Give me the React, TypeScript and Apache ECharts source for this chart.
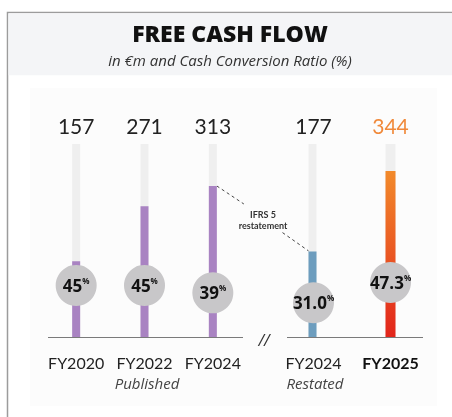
import React, { useEffect, useRef } from "react";
import * as echarts from "echarts";

const publishedCategories = ["FY2020", "FY2022", "FY2024"];
const publishedValues = [157, 271, 313];
const publishedRatios = [45, 45, 39];
const publishedRatioLabels = ["45", "45", "39"];

const restatedCategories = ["FY2024", "FY2025"];
const restatedValues = [177, 344];
const restatedRatios = [31.0, 47.3];
const restatedRatioLabels = ["31.0", "47.3"];

const valueAxisMax = 400;
const ratioAxisMin = 3.5;
const ratioAxisMax = 158.7;

const FONT = "Lato, 'Noto Sans', sans-serif";
const FONT_WIDE = "'Open Sans', 'Noto Sans', sans-serif";
const PURPLE = "#a983c2";
const BLUE = "#6d9dbe";
const TRACK = "#efefef";
const CIRCLE = "#c8c7c9";

export default function App() {
  const ref = useRef<HTMLDivElement>(null);

  useEffect(() => {
    if (!ref.current) return;
    const chart = echarts.init(ref.current, undefined, { renderer: "svg" });

    const ratioLabel = (labels: string[]) => ({
      show: true,
      position: "inside",
      formatter: (p: any) => `{a|${labels[p.dataIndex]}}{b|%}`,
      rich: {
        a: { fontSize: 17, fontWeight: "bold", color: "#111", fontFamily: FONT_WIDE, lineHeight: 18 },
        b: { fontSize: 8, fontWeight: "bold", color: "#111", fontFamily: FONT_WIDE, verticalAlign: "top", lineHeight: 10 },
      },
    });

    const hiddenCat = { axisLine: { show: false }, axisTick: { show: false } };
    const italicText = (id: string, text: string, x: number, y: number, size: number, fill: string) => ({
      id,
      type: "text",
      x,
      y,
      style: {
        text,
        fontSize: size,
        fontStyle: "italic",
        fontFamily: FONT_WIDE,
        fill,
        align: "center",
        verticalAlign: "middle",
      },
    });

    const option: any = {
      animation: false,
      graphic: {
        elements: [
          {
            id: "card",
            type: "rect",
            z: -10,
            shape: { x: 7.5, y: 12.5, width: 520, height: 500 },
            style: { fill: "#ffffff", stroke: "#9c9c9c", lineWidth: 1.5 },
          },
          {
            id: "header",
            type: "rect",
            z: -9,
            shape: { x: 8.5, y: 13.3, width: 450, height: 62 },
            style: { fill: "#f4f5f7" },
          },
          {
            id: "panel",
            type: "rect",
            z: -9,
            shape: { x: 30, y: 88, width: 407, height: 318 },
            style: { fill: "#fcfcfc" },
          },
          {
            id: "title",
            type: "text",
            x: 230,
            y: 33,
            style: {
              text: "FREE CASH FLOW",
              fontSize: 23,
              fontWeight: 800,
              fontFamily: FONT_WIDE,
              fill: "#111",
              align: "center",
              verticalAlign: "middle",
            },
          },
          italicText("subtitle", "in €m and Cash Conversion Ratio (%)", 230, 60, 15, "#333"),
          {
            id: "base1",
            type: "line",
            z: 5,
            shape: { x1: 48, y1: 337.5, x2: 243, y2: 337.5 },
            style: { stroke: "#7a7a7a", lineWidth: 1.2 },
          },
          {
            id: "base2",
            type: "line",
            z: 5,
            shape: { x1: 287, y1: 337.5, x2: 423, y2: 337.5 },
            style: { stroke: "#7a7a7a", lineWidth: 1.2 },
          },
          italicText("break", "//", 264, 340, 16, "#333"),
          italicText("published", "Published", 147, 383, 15, "#444"),
          italicText("restated", "Restated", 315, 383, 15, "#444"),
          {
            id: "ifrs",
            type: "text",
            x: 263,
            y: 220,
            style: {
              text: "IFRS 5\nrestatement",
              fontSize: 9,
              fontWeight: "bold",
              fontFamily: FONT,
              fill: "#333",
              align: "center",
              verticalAlign: "middle",
              lineHeight: 11,
            },
          },
        ],
      },
      grid: [
        { left: 42, width: 205, top: 144, height: 193 },
        { left: 275, width: 154, top: 144, height: 193 },
      ],
      xAxis: [
        {
          gridIndex: 0,
          type: "category",
          data: publishedCategories,
          ...hiddenCat,
          axisLabel: { interval: 0, fontSize: 16, color: "#222", margin: 17, fontFamily: FONT },
        },
        {
          gridIndex: 1,
          type: "category",
          data: restatedCategories.map((c, i) =>
            i === restatedCategories.length - 1 ? { value: c, textStyle: { fontWeight: "bold", color: "#111" } } : c
          ),
          ...hiddenCat,
          axisLabel: { interval: 0, fontSize: 16, color: "#222", margin: 17, fontFamily: FONT },
        },
        {
          gridIndex: 0,
          type: "category",
          position: "top",
          data: publishedValues.map((v) => String(v)),
          ...hiddenCat,
          axisLabel: { interval: 0, fontSize: 21, color: "#222", margin: 8, fontFamily: FONT },
        },
        {
          gridIndex: 1,
          type: "category",
          position: "top",
          data: restatedValues.map((v, i) =>
            i === restatedValues.length - 1 ? { value: String(v), textStyle: { color: "#f0893a" } } : String(v)
          ),
          ...hiddenCat,
          axisLabel: { interval: 0, fontSize: 21, color: "#222", margin: 8, fontFamily: FONT },
        },
      ],
      yAxis: [
        { gridIndex: 0, type: "value", min: 0, max: valueAxisMax, show: false },
        { gridIndex: 1, type: "value", min: 0, max: valueAxisMax, show: false },
        { gridIndex: 0, type: "value", min: ratioAxisMin, max: ratioAxisMax, show: false },
        { gridIndex: 1, type: "value", min: ratioAxisMin, max: ratioAxisMax, show: false },
      ],
      series: [
        {
          type: "bar",
          xAxisIndex: 0,
          yAxisIndex: 0,
          data: publishedValues,
          barWidth: 8,
          itemStyle: { color: PURPLE },
          showBackground: true,
          backgroundStyle: { color: TRACK },
        },
        {
          type: "bar",
          xAxisIndex: 1,
          yAxisIndex: 1,
          data: [[restatedCategories[0], restatedValues[0]]],
          barWidth: 8,
          barGap: "-100%",
          itemStyle: { color: BLUE },
          showBackground: true,
          backgroundStyle: { color: TRACK },
        },
        {
          type: "bar",
          xAxisIndex: 1,
          yAxisIndex: 1,
          data: [[restatedCategories[1], restatedValues[1]]],
          barWidth: 10,
          barGap: "-100%",
          itemStyle: {
            color: new echarts.graphic.LinearGradient(0, 0, 0, 1, [
              { offset: 0, color: "#f28a2b" },
              { offset: 1, color: "#e2251b" },
            ]),
          },
          showBackground: true,
          backgroundStyle: { color: TRACK },
        },
        {
          type: "scatter",
          xAxisIndex: 0,
          yAxisIndex: 2,
          z: 4,
          symbolSize: 41,
          itemStyle: { color: CIRCLE, opacity: 1 },
          data: publishedRatios.map((r, i) => [publishedCategories[i], r]),
          label: ratioLabel(publishedRatioLabels),
        },
        {
          type: "scatter",
          xAxisIndex: 1,
          yAxisIndex: 3,
          z: 4,
          symbolSize: 41,
          itemStyle: { color: CIRCLE, opacity: 1 },
          data: restatedRatios.map((r, i) => [restatedCategories[i], r]),
          label: ratioLabel(restatedRatioLabels),
        },
      ],
    };

    chart.setOption(option);

    // IFRS 5 annotation connectors, anchored on the two FY2024 bar tops
    const pubTop = chart.convertToPixel({ xAxisIndex: 0, yAxisIndex: 0 } as any, [
      publishedCategories[2],
      publishedValues[2],
    ]) as number[];
    const resTop = chart.convertToPixel({ xAxisIndex: 1, yAxisIndex: 1 } as any, [
      restatedCategories[0],
      restatedValues[0],
    ]) as number[];
    if (pubTop && resTop) {
      const dash = { stroke: "#444", lineWidth: 1, lineDash: [3, 3] };
      chart.setOption({
        graphic: {
          elements: [
            {
              id: "conn1",
              type: "line",
              shape: { x1: pubTop[0] + 4, y1: pubTop[1], x2: pubTop[0] + 31, y2: pubTop[1] + 18 },
              style: dash,
            },
            {
              id: "conn2",
              type: "line",
              shape: { x1: resTop[0] - 31, y1: resTop[1] - 19, x2: resTop[0] - 4, y2: resTop[1] },
              style: dash,
            },
          ],
        },
      });
    }

    return () => chart.dispose();
  }, []);

  return (
    <div
      ref={ref}
      style={{ position: "fixed", left: 0, top: 0, width: 452, height: 417 }}
    />
  );
}
